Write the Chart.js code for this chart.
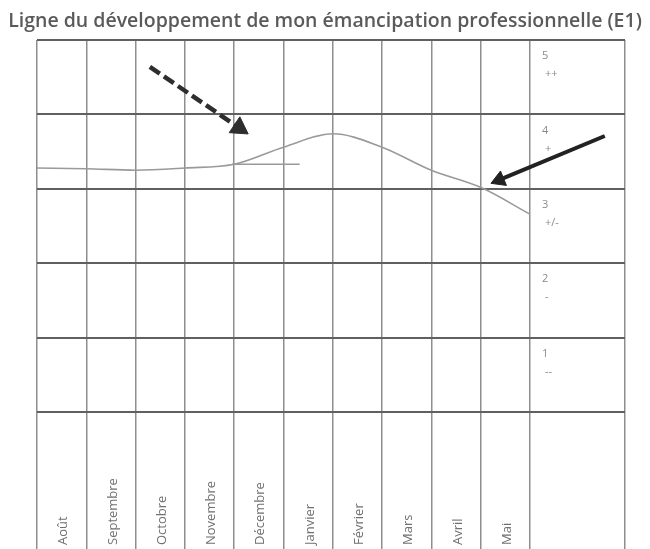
<!DOCTYPE html>
<html>
<head>
<meta charset="utf-8">
<script src="https://cdn.jsdelivr.net/npm/chart.js@4"></script>
<style>
  html, body { margin: 0; padding: 0; background: #fff; }
  #wrap { width: 650px; height: 549px; position: relative; }
</style>
</head>
<body>
<div id="wrap"><canvas id="lineChart"></canvas></div>
<script>
// months in the bottom row, one per column
const months = ["Août", "Septembre", "Octobre", "Novembre", "Décembre", "Janvier", "Février", "Mars", "Avril", "Mai"];

// grade bands shown in the last column
const grades = [5, 4, 3, 2, 1];
const gradeSigns = ["++", "+", "+/-", "-", "--"];

// the drawn line, read at each column edge
const curveX = [0, 1, 2, 3, 4, 5, 6, 7, 8, 9, 10];
const curveY = [3.28, 3.27, 3.25, 3.28, 3.33, 3.56, 3.74, 3.56, 3.25, 3.02, 2.66];

// the short extra stroke under Décembre / Janvier
const strokeX = [3.96, 5.33];
const strokeY = [3.33, 3.33];

// arrows pointing at the line (start, head)
const dashArrowX = [2.29, 4.10];
const dashArrowY = [4.64, 3.82];
const solidArrowX = [11.52, 9.38];
const solidArrowY = [3.71, 3.12];

const X_MAX = 11.93;
const Y_MIN = -1.84;

const toPoints = (xs, ys) => xs.map((x, i) => ({ x, y: ys[i] }));

// month names and grade labels drawn inside the grid cells
const cellLabels = {
  id: "cellLabels",
  afterDraw(chart) {
    const { ctx, chartArea, scales } = chart;
    const xs = scales.x, ys = scales.y;
    ctx.save();
    ctx.fillStyle = "#707070";
    ctx.font = "13px 'Open Sans', sans-serif";
    ctx.textAlign = "left";
    ctx.textBaseline = "middle";
    months.forEach((m, i) => {
      const px = xs.getPixelForValue(i + 0.5) + 2;
      ctx.save();
      ctx.translate(px, chartArea.bottom - 4);
      ctx.rotate(-Math.PI / 2);
      ctx.fillText(m, 0, 0);
      ctx.restore();
    });

    ctx.fillStyle = "#8a8a8a";
    ctx.font = "11px 'Open Sans', sans-serif";
    const left = xs.getPixelForValue(10);
    grades.forEach((g, i) => {
      const top = ys.getPixelForValue(g);
      ctx.fillText(String(g), left + 12, top + 16);
      ctx.fillText(gradeSigns[i], left + 15, top + 34);
    });
    ctx.restore();
  }
};

const ctx = document.getElementById("lineChart");

new Chart(ctx, {
  type: "line",
  data: {
    datasets: [
      {
        data: toPoints(solidArrowX, solidArrowY),
        borderColor: "#222",
        backgroundColor: "#222",
        borderWidth: 4,
        pointStyle: "triangle",
        pointRadius: c => (c.dataIndex === 1 ? 9 : 0),
        pointRotation: 247.6,
        pointBorderWidth: 1,
        pointBorderColor: "#222",
        pointBackgroundColor: "#222"
      },
      {
        data: toPoints(dashArrowX, dashArrowY),
        borderColor: "#2e2e2e",
        backgroundColor: "#2e2e2e",
        borderWidth: 4.5,
        borderDash: [12, 5],
        pointStyle: "triangle",
        pointRadius: c => (c.dataIndex === 1 ? 11 : 0),
        pointRotation: 124,
        pointBorderWidth: 1,
        pointBorderColor: "#2e2e2e",
        pointBackgroundColor: "#2e2e2e"
      },
      {
        data: toPoints(strokeX, strokeY),
        borderColor: "#9a9a9a",
        borderWidth: 1.5,
        pointRadius: 0
      },
      {
        data: toPoints(curveX, curveY),
        borderColor: "#9a9a9a",
        borderWidth: 1.6,
        cubicInterpolationMode: "monotone",
        pointRadius: 0
      }
    ]
  },
  options: {
    responsive: true,
    maintainAspectRatio: false,
    animation: false,
    layout: { autoPadding: false, padding: 0 },
    plugins: {
      legend: { display: false },
      tooltip: { enabled: false },
      title: {
        display: true,
        text: "Ligne du développement de mon émancipation professionnelle (E1)",
        color: "#5a5a5a",
        font: { size: 19.5, family: "'Open Sans', sans-serif", weight: "600" },
        padding: { top: 10, bottom: 6.6 }
      }
    },
    scales: {
      x: {
        type: "linear",
        min: 0,
        max: X_MAX,
        afterBuildTicks: s => {
          s.ticks = [0, 1, 2, 3, 4, 5, 6, 7, 8, 9, 10, X_MAX].map(v => ({ value: v }));
        },
        afterFit: s => { s.height = 0; },
        ticks: { display: false },
        border: { display: false },
        grid: { color: "#8e8e8e", lineWidth: 1.5, drawTicks: false }
      },
      y: {
        type: "linear",
        min: Y_MIN,
        max: 5,
        afterBuildTicks: s => {
          s.ticks = [0, 1, 2, 3, 4, 5].map(v => ({ value: v }));
        },
        afterFit: s => { s.width = 37; },
        ticks: { display: false },
        border: { display: false },
        grid: { color: "#606060", lineWidth: 2, drawTicks: false }
      },
      // empty strip to the right of the grid
      yRight: {
        type: "linear",
        position: "right",
        min: Y_MIN,
        max: 5,
        afterFit: s => { s.width = 25; },
        ticks: { display: false },
        border: { display: false },
        grid: { display: false, drawTicks: false }
      }
    }
  },
  plugins: [cellLabels]
});
</script>
</body>
</html>
